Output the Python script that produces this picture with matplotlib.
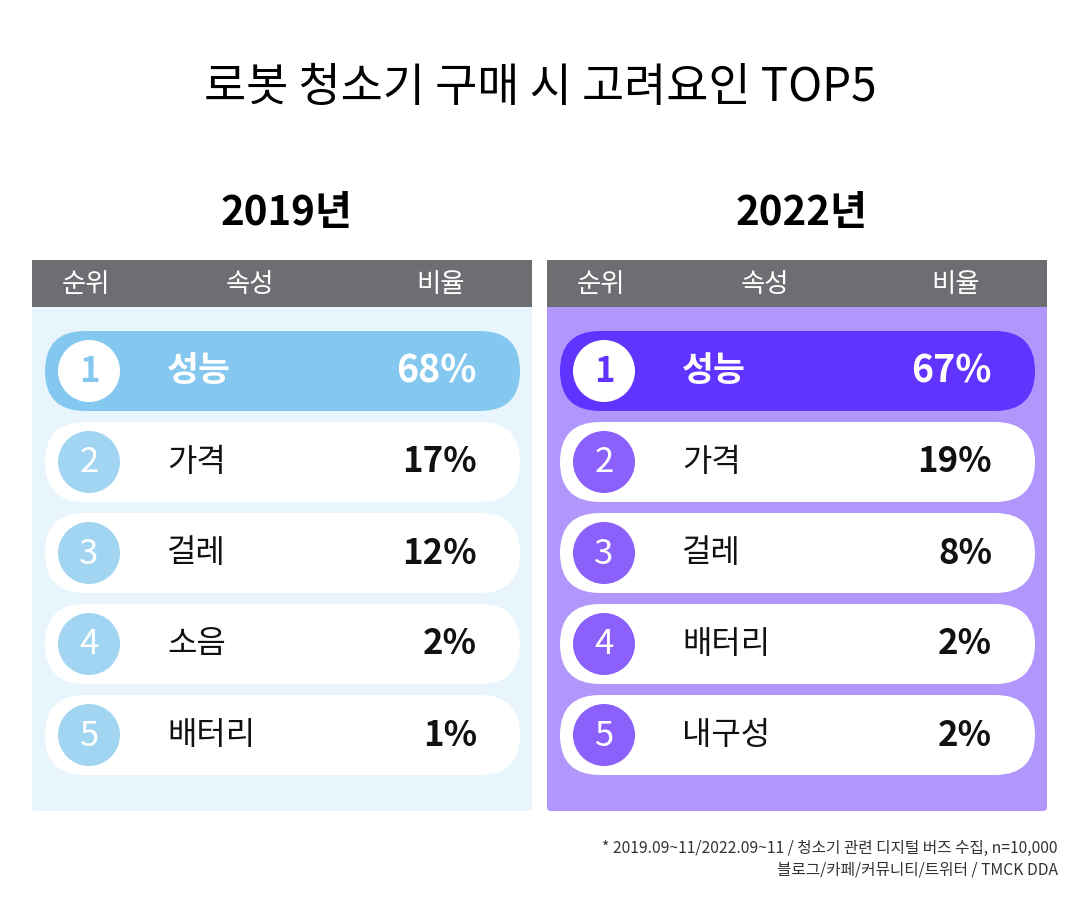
import matplotlib
matplotlib.use("Agg")
import matplotlib.pyplot as plt
from matplotlib.patches import FancyBboxPatch, Circle

plt.rcParams['font.family'] = ['Noto Sans CJK KR', 'DejaVu Sans']

title = "로봇 청소기 구매 시 고려요인 TOP5"
years = ["2019년", "2022년"]
headers = ["순위", "속성", "비율"]
ranks = [1, 2, 3, 4, 5]
attrs_2019 = ["성능", "가격", "걸레", "소음", "배터리"]
pct_2019 = [68, 17, 12, 2, 1]
attrs_2022 = ["성능", "가격", "걸레", "배터리", "내구성"]
pct_2022 = [67, 19, 8, 2, 2]
notes = ["* 2019.09~11/2022.09~11 / 청소기 관련 디지털 버즈 수집, n=10,000",
         "블로그/카페/커뮤니티/트위터 / TMCK DDA"]

# panel styles: body, top pill, circles
styles = [
    dict(body="#e8f5fd", top="#85c8ef", circ="#a2d5f2"),
    dict(body="#b197fc", top="#6133ff", circ="#8c60fb"),
]

fig = plt.figure(figsize=(10.8, 9.11), dpi=100)
ax = fig.add_axes([0, 0, 1, 1])
ax.set_xlim(0, 1080)
ax.set_ylim(911, 0)
ax.axis("off")

ax.text(540, 88, title, ha="center", va="center", fontsize=33,
        fontweight="medium", color="#000000")

panels = [(attrs_2019, pct_2019), (attrs_2022, pct_2022)]
for p, (attrs, pcts) in enumerate(panels):
    x0 = 32 + p * 515
    st = styles[p]
    ax.text(x0 + 255, 213, years[p], ha="center", va="center",
            fontsize=29, fontweight="heavy", color="#000000")
    # body
    ax.add_patch(FancyBboxPatch((x0, 270), 500, 541,
                                boxstyle="round,pad=0,rounding_size=4",
                                fc=st["body"], ec="none"))
    # header
    ax.add_patch(plt.Rectangle((x0, 260), 500, 47, fc="#6d6e72", ec="none"))
    for hx, h in zip([54, 218, 409], headers):
        ax.text(x0 + hx, 284, h, ha="center", va="center", fontsize=19, color="white")

    for i, (r, a, v) in enumerate(zip(ranks, attrs, pcts)):
        cy = 371 + i * 91
        top = i == 0
        ax.add_patch(FancyBboxPatch((x0 + 13, cy - 40), 475, 80,
                                    boxstyle="round,pad=0,rounding_size=40",
                                    fc=st["top"] if top else "white", ec="none"))
        ax.add_patch(Circle((x0 + 57, cy), 31,
                            fc="white" if top else st["circ"], ec="none"))
        ax.text(x0 + 57, cy + 1, str(r), ha="center", va="center",
                fontsize=25, fontweight="heavy" if top else "normal",
                color=st["top"] if top else "white")
        tc = "white" if top else "#111111"
        ax.text(x0 + 135, cy, a, ha="left", va="center",
                fontsize=25 if top else 23,
                fontweight="heavy" if top else "normal", color=tc)
        ax.text(x0 + 445, cy, f"{v}%", ha="right", va="center",
                fontsize=27 if top else 25, fontweight="heavy", color=tc)

ax.text(1058, 848, notes[0], ha="right", va="center", fontsize=11.3, color="#333333")
ax.text(1058, 870, notes[1], ha="right", va="center", fontsize=11.3, color="#333333")

fig.savefig("out.png", dpi=100, facecolor="white")
